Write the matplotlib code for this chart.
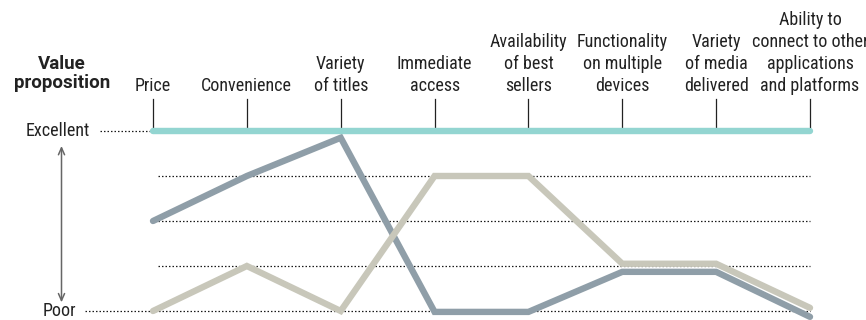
import matplotlib
matplotlib.use("Agg")
import matplotlib.pyplot as plt

plt.rcParams['font.family'] = ['Roboto Condensed', 'DejaVu Sans']

categories = ["Price", "Convenience", "Variety\nof titles", "Immediate\naccess",
              "Availability\nof best\nsellers", "Functionality\non multiple\ndevices",
              "Variety\nof media\ndelivered",
              "Ability to\nconnect to other\napplications\nand platforms"]
teal = [5, 5, 5, 5, 5, 5, 5, 5]
slate = [3.0, 4.0, 4.85, 0.98, 0.98, 1.87, 1.87, 0.87]
beige = [1.0, 2.0, 1.0, 4.0, 4.0, 2.05, 2.05, 1.07]
grid_levels = [4, 3, 2]

W, H = 866, 320
fig = plt.figure(figsize=(W / 100, H / 100), dpi=100)
# axes spans Price..Ability (x) and Poor..Excellent (y)
x0, x1, yb, yt = 153, 810, 311, 131
ax = fig.add_axes([x0 / W, (H - yb) / H, (x1 - x0) / W, (yb - yt) / H])
ax.set_xlim(0, len(categories) - 1)
ax.set_ylim(1, 5)
ax.axis('off')

xs = list(range(len(categories)))
dot = dict(color='#1a1a1a', lw=0.9, ls=(0, (1.2, 1.6)), clip_on=False, zorder=1)

# dotted guide lines
for lv in grid_levels:
    ax.plot([0.05, xs[-1]], [lv, lv], **dot)
px = (x1 - x0) / (len(xs) - 1)
ax.plot([(85 - x0) / px, xs[-1]], [1, 1], **dot)
ax.plot([(100 - x0) / px, -0.03], [5, 5], **dot)

# data lines
ax.plot(xs, slate, color='#8f9ea8', lw=4.6, solid_capstyle='round',
        solid_joinstyle='miter', clip_on=False, zorder=3)
ax.plot(xs, beige, color='#c8c7ba', lw=4.6, solid_capstyle='round',
        solid_joinstyle='miter', clip_on=False, zorder=4)
ax.plot(xs, teal, color='#93d5d1', lw=4.6, solid_capstyle='round',
        clip_on=False, zorder=5)

# ticks and column labels
for x, lab in zip(xs, categories):
    ax.plot([x, x], [5, 5.71], color='#222222', lw=0.9, clip_on=False, zorder=2)
    ax.text(x, 5.80, lab, ha='center', va='bottom', multialignment='center',
            fontsize=13, color='#222222', linespacing=1.28, clip_on=False)

ax.text((90 - x0) / px, 5, "Excellent", ha='right', va='center', fontsize=13,
        color='#222222')
ax.text((76 - x0) / px, 1, "Poor", ha='right', va='center', fontsize=13,
        color='#222222')

fig.text(62 / W, (H - 92) / H, "Value\nproposition", ha='center', va='bottom',
         multialignment='center', fontsize=13.5, fontweight='bold',
         fontstretch='normal', color='#222222',
         family=['Roboto', 'DejaVu Sans'], linespacing=1.1)

ax.annotate("", xy=((61.5 - x0) / px, 4.73), xytext=((61.5 - x0) / px, 1.13),
            arrowprops=dict(arrowstyle='<->,head_length=0.5,head_width=0.22',
                            color='#666666', lw=1.1), annotation_clip=False)

fig.savefig("out.png", dpi=100, facecolor='white')
